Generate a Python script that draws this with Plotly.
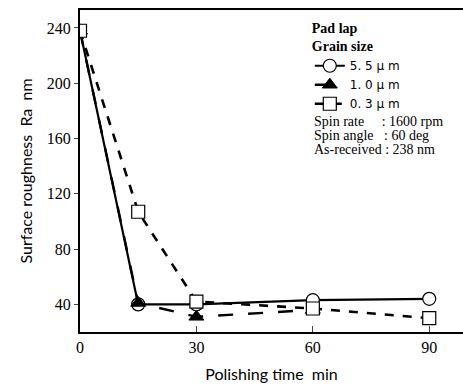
import plotly.graph_objects as go

time_55 = [0, 15, 30, 60, 90]
ra_55 = [238, 40, 40, 43, 44]
time_10 = [0, 15, 30, 60]
ra_10 = [238, 41, 31, 36]
time_03 = [0, 15, 30, 60, 90]
ra_03 = [238, 107, 42, 37, 30]

x_ticks = [0, 30, 60, 90]
y_ticks = [40, 80, 120, 160, 200, 240]

info_lines = [
    "Spin rate&nbsp;&nbsp;&nbsp;&nbsp;&nbsp;: 1600 rpm",
    "Spin angle&nbsp;&nbsp;&nbsp;: 60 deg",
    "As-received : 238 nm",
]

serif = "Liberation Serif"
sans = "Lato"

fig = go.Figure()
fig.add_trace(go.Scatter(
    x=time_55, y=ra_55, name="5. 5 \u03bc m", mode="lines+markers",
    line=dict(color="black", width=2.2, dash="solid"),
    marker=dict(symbol="circle", size=13, color="white", line=dict(color="black", width=1.2)),
))
fig.add_trace(go.Scatter(
    x=time_10, y=ra_10, name="1. 0 \u03bc m", mode="lines+markers",
    line=dict(color="black", width=2.4, dash="longdash"),
    marker=dict(symbol="triangle-up", size=13, color="black", line=dict(color="black", width=1)),
))
fig.add_trace(go.Scatter(
    x=time_03, y=ra_03, name="0. 3 \u03bc m", mode="lines+markers",
    line=dict(color="black", width=2.6, dash="dash"),
    marker=dict(symbol="square", size=13, color="white", line=dict(color="black", width=1.2)),
))

annotations = []
for i, t in enumerate(info_lines):
    annotations.append(dict(
        x=0.605, y=0.655 - i * 0.0435, xref="paper", yref="paper",
        xanchor="left", yanchor="middle", align="left", showarrow=False,
        text=t, font=dict(family=serif, size=14, color="black"),
    ))

fig.update_layout(
    width=463, height=390,
    margin=dict(l=80, r=0, t=10, b=58),
    plot_bgcolor="white", paper_bgcolor="white",
    showlegend=True,
    legend=dict(
        x=0.6, y=0.985, xanchor="left", yanchor="top",
        bgcolor="rgba(0,0,0,0)",
        font=dict(family="DejaVu Sans", size=12, color="black"),
        title=dict(text="<b>Pad lap</b><br><b>Grain size</b>", font=dict(family=serif, size=14, color="black")),
        itemwidth=30, tracegroupgap=0,
    ),
    xaxis=dict(
        range=[0, 98.7], tickvals=x_ticks, ticks="inside", ticklen=6,
        showline=True, linecolor="black", linewidth=2, mirror=True,
        showgrid=False, zeroline=False,
        tickfont=dict(family=serif, size=16, color="black"),
        title=dict(text="Polishing time  min", font=dict(family=sans, size=16, color="black"), standoff=14),
    ),
    yaxis=dict(
        range=[20, 253], tickvals=y_ticks, ticks="outside", ticklen=4,
        showline=True, linecolor="black", linewidth=2,
        showgrid=False, zeroline=False,
        tickfont=dict(family=serif, size=16, color="black"),
        title=dict(text="Surface roughness  Ra  nm", font=dict(family=sans, size=16, color="black"), standoff=10),
    ),
    annotations=annotations,
)

fig.write_html("out.html")
